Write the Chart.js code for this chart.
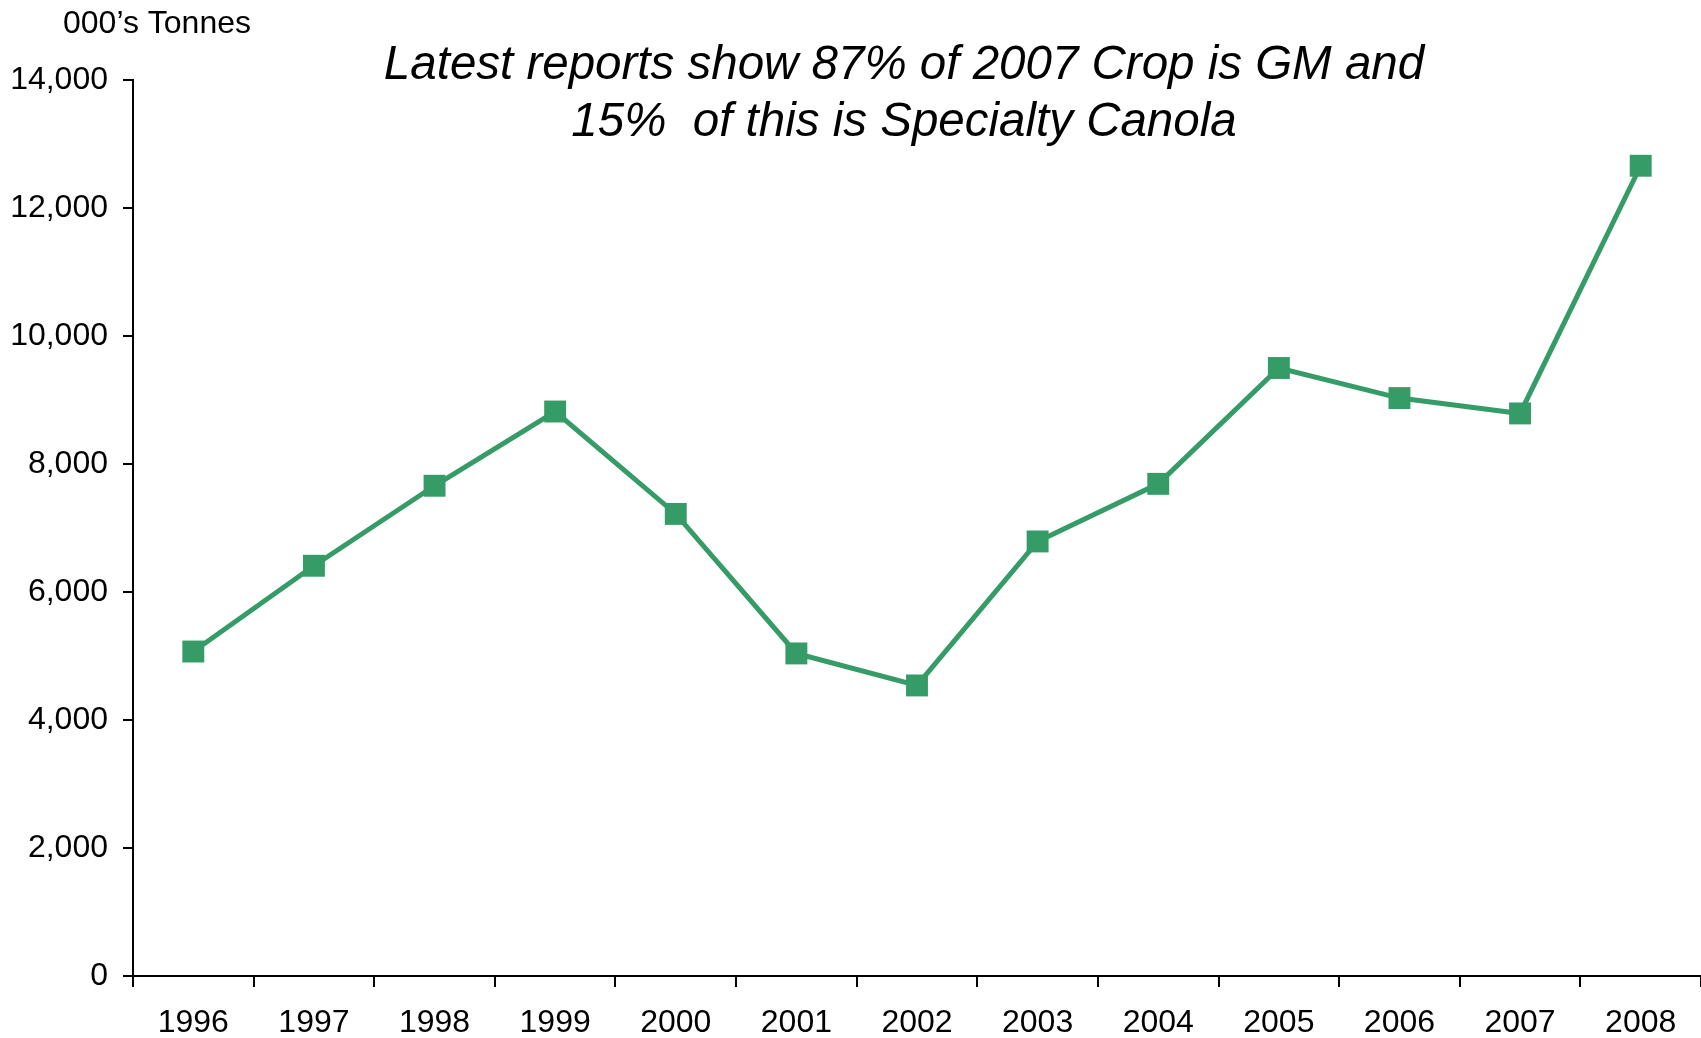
<!DOCTYPE html>
<html>
<head>
<meta charset="utf-8">
<title>Canola production</title>
<script src="https://cdn.jsdelivr.net/npm/chart.js@4/dist/chart.umd.min.js"></script>
<style>
  html, body { margin: 0; padding: 0; background: #fff; }
  canvas { display: block; }
</style>
</head>
<body>
<canvas id="chart" width="1701" height="1038"></canvas>
<script>
const years = ['1996', '1997', '1998', '1999', '2000', '2001', '2002',
               '2003', '2004', '2005', '2006', '2007', '2008'];
const production = [5070, 6410, 7660, 8820, 7220, 5040, 4540,
                    6790, 7690, 9500, 9030, 8790, 12660];
const headline = ['Latest reports show 87% of 2007 Crop is GM and',
                  '15%  of this is Specialty Canola'];
const unitLabel = '000\u2019s Tonnes';

const green = '#359c67';
const fontFamily = '"Liberation Sans", Arial, sans-serif';

// headline and unit label drawn straight onto the canvas
const annotations = {
  id: 'annotations',
  afterDraw(chart) {
    const ctx = chart.ctx;
    ctx.save();
    ctx.fillStyle = '#000';
    ctx.textBaseline = 'alphabetic';
    ctx.font = '32px ' + fontFamily;
    ctx.textAlign = 'left';
    ctx.fillText(unitLabel, 63, 33);
    ctx.font = 'italic 47.5px ' + fontFamily;
    ctx.textAlign = 'center';
    ctx.fillText(headline[0], 904, 79);
    ctx.fillText(headline[1], 904, 136);
    ctx.restore();
  }
};

new Chart(document.getElementById('chart'), {
  type: 'line',
  data: {
    labels: years,
    datasets: [{
      data: production,
      borderColor: green,
      backgroundColor: green,
      borderWidth: 5,
      tension: 0,
      pointStyle: 'rect',
      pointRadius: 15.5,
      pointBorderWidth: 0,
      pointBackgroundColor: green,
      clip: false
    }]
  },
  options: {
    responsive: false,
    animation: false,
    layout: {
      autoPadding: false,
      padding: { top: 80, right: 0, left: 0, bottom: 0 }
    },
    plugins: {
      legend: { display: false },
      tooltip: { enabled: false }
    },
    scales: {
      x: {
        offset: true,
        grid: {
          offset: true,
          drawOnChartArea: false,
          drawTicks: true,
          tickLength: 11,
          color: '#000',
          lineWidth: 2
        },
        border: { display: true, color: '#000', width: 2 },
        ticks: {
          color: '#000',
          font: { family: fontFamily, size: 32 },
          padding: 17,
          maxRotation: 0,
          autoSkip: false
        },
        afterFit(scale) {
          scale.height = 62;
          // let the axis run to the canvas edge
          scale.paddingLeft = 0;
          scale.paddingRight = 0;
        }
      },
      y: {
        min: 0,
        max: 14000,
        grid: {
          drawOnChartArea: false,
          drawTicks: true,
          tickLength: 10,
          color: '#000',
          lineWidth: 2
        },
        border: { display: true, color: '#000', width: 2 },
        ticks: {
          stepSize: 2000,
          color: '#000',
          font: { family: fontFamily, size: 32 },
          padding: 15,
          callback: v => v.toLocaleString('en-US')
        },
        afterFit(scale) { scale.width = 133; }
      }
    }
  },
  plugins: [annotations]
});
</script>
</body>
</html>
